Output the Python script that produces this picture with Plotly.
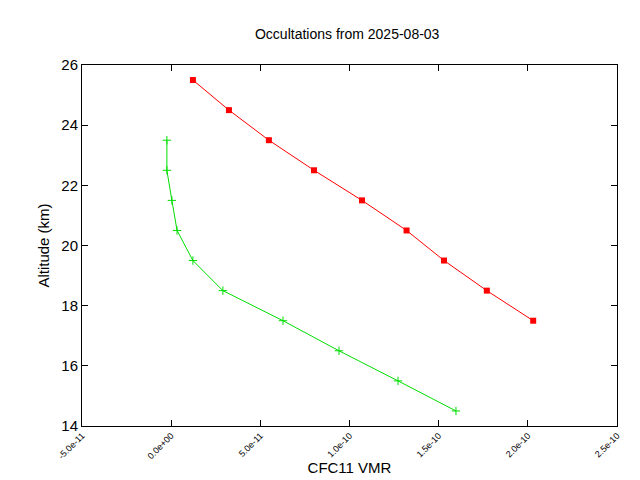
import plotly.graph_objects as go

# red series (squares)
red_vmr = [1.22e-11, 3.24e-11, 5.48e-11, 8.01e-11, 1.07e-10, 1.32e-10, 1.53e-10, 1.77e-10, 2.03e-10]
red_alt = [25.5, 24.5, 23.5, 22.5, 21.5, 20.5, 19.5, 18.5, 17.5]

# green series (plus markers)
green_vmr = [-2.4e-12, -2.4e-12, 0.4e-12, 3.3e-12, 1.22e-11, 2.9e-11, 6.27e-11, 9.41e-11, 1.272e-10, 1.597e-10]
green_alt = [23.5, 22.5, 21.5, 20.5, 19.5, 18.5, 17.5, 16.5, 15.5, 14.5]

x_ticks = [-5e-11, 0, 5e-11, 1e-10, 1.5e-10, 2e-10, 2.5e-10]
x_labels = ["-5.0e-11", "0.0e+00", "5.0e-11", "1.0e-10", "1.5e-10", "2.0e-10", "2.5e-10"]

fig = go.Figure()
fig.add_trace(go.Scatter(x=red_vmr, y=red_alt, mode="lines+markers",
                         line=dict(color="#ff0000", width=1),
                         marker=dict(symbol="square", size=6, color="#ff0000")))
fig.add_trace(go.Scatter(x=green_vmr, y=green_alt, mode="lines+markers",
                         line=dict(color="#00dd00", width=1),
                         marker=dict(symbol="cross-thin", size=6, line=dict(color="#00dd00", width=1))))

axis_common = dict(showgrid=False, zeroline=False, showline=True, linecolor="black",
                   mirror="ticks", ticks="inside", ticklen=6, tickcolor="black",
                   automargin=False)

fig.update_layout(
    width=640, height=480, showlegend=False,
    paper_bgcolor="white", plot_bgcolor="white",
    margin=dict(l=74, r=31, t=57, b=62, autoexpand=False),
    font=dict(family="Liberation Sans, Arial", color="black"),
    title=dict(text="Occultations from 2025-08-03", x=0.53, y=0.945, xanchor="center",
               yanchor="middle", automargin=False, font=dict(size=14)),
    xaxis=dict(range=[-5e-11, 2.5e-10], tickvals=x_ticks, ticktext=x_labels,
               tickangle=-45, tickfont=dict(size=9),
               title=dict(text="CFC11 VMR", font=dict(size=15), standoff=2), **axis_common),
    yaxis=dict(range=[14, 26], dtick=2, tickfont=dict(size=15),
               title=dict(text="Altitude (km)", font=dict(size=15), standoff=8), **axis_common),
)

fig.write_html("out.html")
